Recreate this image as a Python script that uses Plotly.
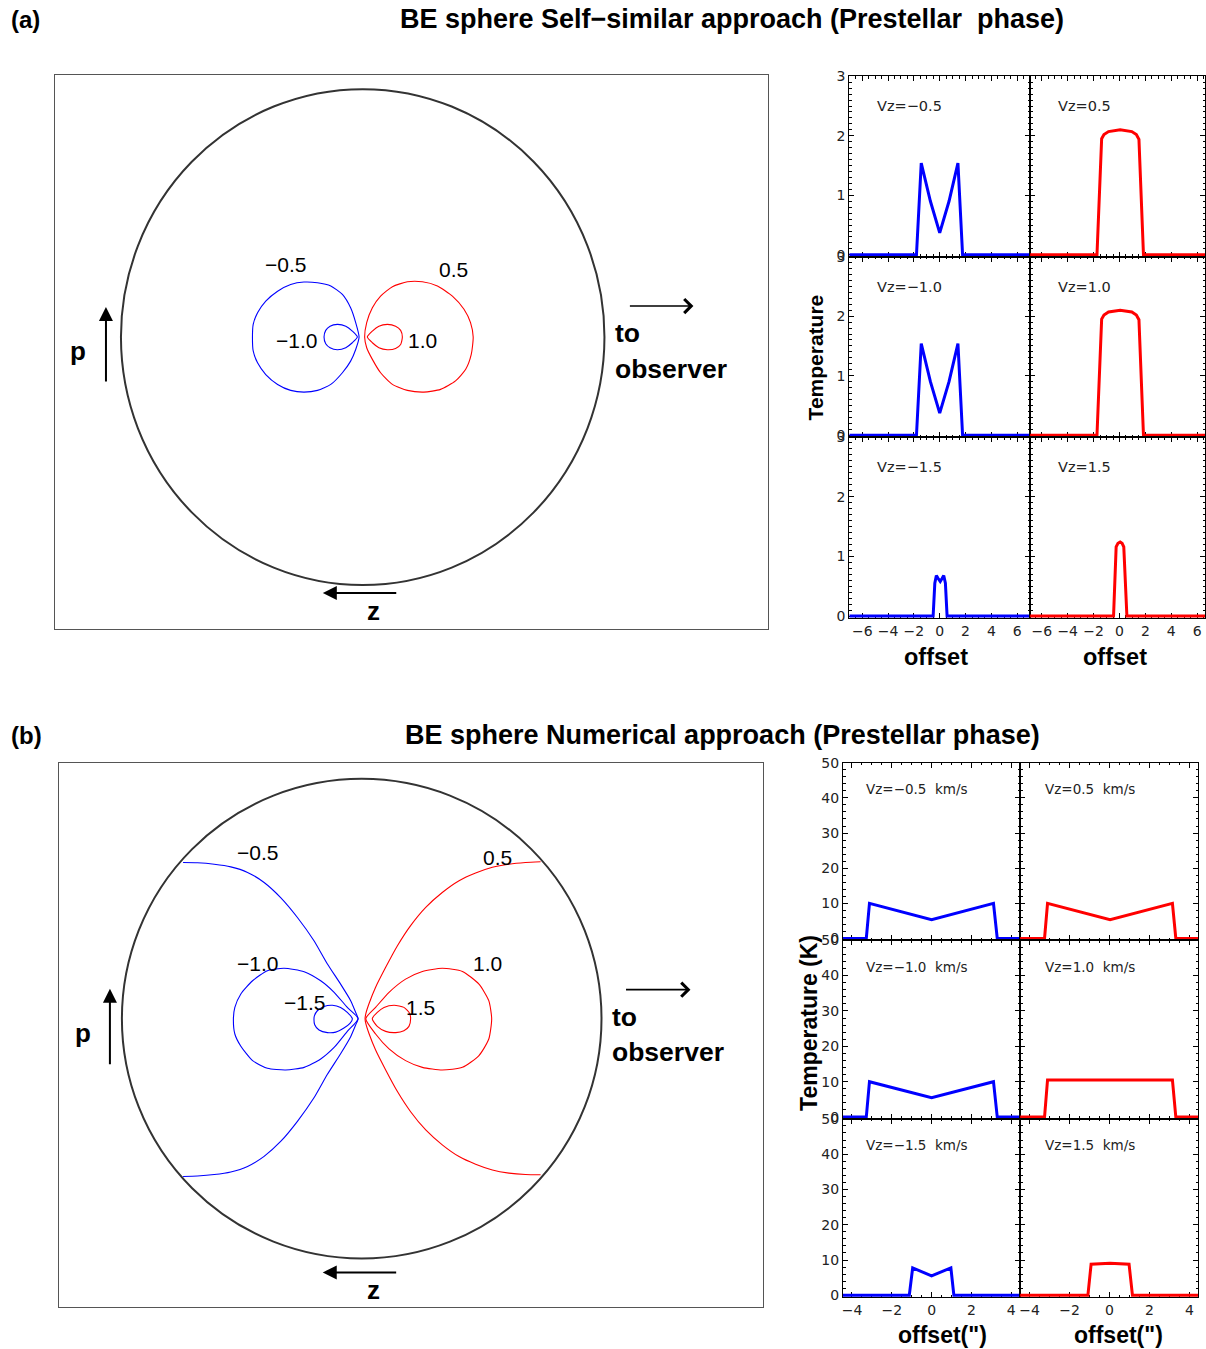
import plotly.graph_objects as go

W, H = 1206, 1349

# ---------------- data ----------------
# Panel (a) velocity contours: z (horizontal) and p (vertical), in % of sphere radius
a_m05_z = [-1.5, -2.9, -5.0, -8.4, -13.2, -18.7, -24.3, -29.8, -35.2, -40.1, -43.5, -45.3, -45.6,
           -45.3, -43.5, -40.1, -35.2, -29.8, -24.3, -18.7, -13.2, -8.4, -5.0, -2.9, -1.5]
a_m05_p = [0, 5.8, 11.8, 17.2, 20.6, 21.9, 22.2, 21.2, 18.5, 14.5, 9.8, 5.1, 0,
           -5.6, -10.4, -15.1, -19.1, -21.5, -22.2, -21.5, -19.1, -14.4, -9.7, -5.0, 0]
a_m10_z = [-2.2, -4.3, -7.0, -10.5, -13.5, -15.3, -16.0, -15.3, -13.5, -10.5, -7.0, -4.3, -2.2]
a_m10_p = [0, 2.4, 4.4, 5.1, 4.4, 2.7, 0, -2.7, -4.3, -5.1, -4.3, -2.3, 0]
a_p05_z = [0.8, 1.65, 4.0, 7.4, 12.3, 18.5, 24.7, 30.9, 37.1, 41.9, 44.6, 45.7,
           44.9, 42.6, 38.4, 32.2, 25.3, 18.5, 12.3, 7.4, 4.0, 1.65, 0.8]
a_p05_p = [0, 5.8, 11.8, 16.5, 20.3, 22.3, 22.3, 20.6, 16.5, 11.2, 5.8, 0,
           -7.0, -13.0, -17.7, -21.1, -22.2, -21.5, -19.1, -14.4, -9.0, -4.3, 0]
a_p10_z = [1.9, 4.0, 6.7, 10.2, 13.6, 15.7, 16.4, 15.7, 13.6, 10.2, 6.7, 4.0, 1.9]
a_p10_p = [0, 2.4, 4.4, 5.1, 4.4, 2.7, 0, -3.0, -4.6, -5.1, -4.3, -2.3, 0]

# Panel (b) velocity contours
b_m05_z = [-74.5, -68.5, -61.5, -54.6, -47.6, -40.7, -33.8, -26.8, -19.9, -14.3, -8.8, -4.6, -2.5, -1.5,
           -2.5, -4.6, -8.8, -14.3, -19.9, -26.8, -33.8, -40.7, -47.6, -54.6, -61.5, -68.5, -74.5]
b_m05_p = [65.1, 65.0, 64.4, 63.3, 61.0, 56.8, 50.5, 42.2, 32.5, 22.8, 14.4, 7.5, 2.6, 0,
           -2.6, -7.5, -14.6, -23.2, -33.0, -42.8, -51.2, -57.4, -61.6, -63.9, -65.0, -65.6, -65.8]
b_m10_z = [-1.5, -6.0, -11.5, -17.1, -24.0, -32.4, -39.3, -45.5, -50.4, -52.9, -53.5,
           -52.9, -50.4, -45.5, -39.3, -31.7, -24.0, -17.1, -11.5, -6.0, -1.5]
b_m10_p = [0, 4.7, 11.0, 15.8, 19.6, 21.0, 20.0, 15.8, 10.3, 4.7, 0,
           -6.4, -11.5, -17.5, -20.7, -21.4, -20.3, -16.8, -12.0, -5.3, 0]
b_m15_z = [-3.9, -6.0, -8.8, -12.2, -15.7, -18.5, -19.7, -19.9, -19.6, -17.8, -14.3, -10.8, -7.4, -4.9, -3.9]
b_m15_p = [0, 2.6, 4.7, 5.6, 5.1, 3.3, 1.25, 0, -2.5, -4.7, -5.8, -5.6, -3.9, -2.0, 0]
b_p05_z = [74.6, 68.3, 61.4, 54.5, 47.5, 40.6, 33.6, 26.7, 20.4, 14.9, 10.0, 5.8, 3.0, 1.7, 1.4,
           1.7, 3.0, 5.8, 10.0, 14.9, 20.4, 26.7, 33.6, 40.6, 47.5, 54.5, 61.4, 68.3, 74.6]
b_p05_p = [65.4, 65.1, 64.4, 63.1, 60.7, 57.5, 52.6, 46.4, 38.8, 30.4, 21.4, 13.1, 6.1, 2.0, 0,
           -2.0, -6.1, -13.1, -21.4, -30.4, -38.8, -46.4, -52.6, -57.5, -60.7, -63.1, -64.4, -65.0, -65.1]
b_p10_z = [1.7, 5.8, 11.4, 18.3, 25.3, 33.6, 42.0, 48.9, 53.0, 54.2,
           53.0, 48.9, 42.0, 33.6, 25.3, 18.3, 11.4, 5.8, 1.7]
b_p10_p = [0, 4.7, 11.0, 16.5, 19.7, 21.0, 19.7, 14.4, 7.5, 0,
           -8.5, -15.4, -20.3, -21.4, -20.3, -17.5, -12.6, -6.4, 0]
b_p15_z = [4.4, 6.5, 9.3, 13.5, 17.6, 20.0, 20.4, 19.7, 17.6, 14.2, 10.0, 6.5, 4.4]
b_p15_p = [0, 2.6, 4.7, 5.6, 4.7, 2.2, 0, -3.2, -5.0, -5.8, -5.3, -3.2, 0]

# Panel (a) spectra: offset vs temperature
a_off_m05 = [-7, -1.8, -1.43, -0.72, 0, 0.72, 1.41, 1.77, 7]
a_T_m05 = [0, 0, 1.54, 0.90, 0.37, 0.90, 1.54, 0, 0]
a_off_p05 = [-7, -1.74, -1.38, -1.2, -0.85, 0.05, 0.95, 1.3, 1.5, 1.85, 7]
a_T_p05 = [0, 0, 1.95, 2.02, 2.07, 2.10, 2.07, 2.02, 1.94, 0, 0]
a_off_m10 = [-7, -1.8, -1.43, -0.72, 0, 0.72, 1.41, 1.77, 7]
a_T_m10 = [0, 0, 1.54, 0.90, 0.37, 0.90, 1.54, 0, 0]
a_off_p10 = [-7, -1.74, -1.38, -1.2, -0.85, 0.05, 0.95, 1.3, 1.5, 1.85, 7]
a_T_p10 = [0, 0, 1.95, 2.02, 2.07, 2.10, 2.07, 2.02, 1.94, 0, 0]
a_off_m15 = [-7, -0.51, -0.38, -0.26, -0.12, 0.04, 0.18, 0.31, 0.44, 0.57, 7]
a_T_m15 = [0, 0, 0.55, 0.68, 0.63, 0.58, 0.63, 0.68, 0.55, 0, 0]
a_off_p15 = [-7, -0.46, -0.26, -0.12, 0.05, 0.2, 0.33, 0.57, 7]
a_T_p15 = [0, 0, 1.16, 1.22, 1.24, 1.22, 1.16, 0, 0]

# Panel (b) spectra
b_off_m05 = [-4.5, -3.28, -3.12, 0, 3.11, 3.3, 4.5]
b_T_m05 = [0, 0, 10.0, 5.3, 10.0, 0, 0]
b_off_p05 = [-4.5, -3.25, -3.1, 0.03, 3.15, 3.32, 4.5]
b_T_p05 = [0, 0, 10.0, 5.3, 10.0, 0, 0]
b_off_m10 = [-4.5, -3.28, -3.12, 0, 3.11, 3.3, 4.5]
b_T_m10 = [0, 0, 10.0, 5.5, 10.0, 0, 0]
b_off_p10 = [-4.5, -3.25, -3.1, 3.15, 3.32, 4.5]
b_T_p10 = [0, 0, 10.5, 10.5, 0, 0]
b_off_m15 = [-4.5, -1.12, -0.95, 0, 0.97, 1.12, 4.5]
b_T_m15 = [0, 0, 7.8, 5.5, 7.8, 0, 0]
b_off_p15 = [-4.5, -1.08, -0.92, 0.03, 0.98, 1.15, 4.5]
b_T_p15 = [0, 0, 8.8, 9.1, 8.8, 0, 0]

a_vz_labels = ["Vz=−0.5", "Vz=0.5", "Vz=−1.0", "Vz=1.0", "Vz=−1.5", "Vz=1.5"]
b_vz_labels = ["Vz=−0.5  km/s", "Vz=0.5  km/s", "Vz=−1.0  km/s", "Vz=1.0  km/s",
               "Vz=−1.5  km/s", "Vz=1.5  km/s"]
a_contour_labels = ["−0.5", "0.5", "−1.0", "1.0"]
b_contour_labels = ["−0.5", "0.5", "−1.0", "1.0", "−1.5", "1.5"]

BLUE = "#0000ff"
RED = "#ff0000"


def fx(px):
    return px / W


def fy(py):
    # compensates the small vertical offset/scale seen in the rendered page
    return 1 - ((py - 6.7) / 0.9903) / H


fig = go.Figure()
layout = {}

# ---------- left diagram axes ----------
frame = dict(showline=True, mirror=True, linecolor="#555", linewidth=1, showgrid=False,
             zeroline=False, showticklabels=False, ticks="")
layout["xaxis"] = dict(frame, domain=[fx(54), fx(768)], range=[-127.3, 167.8], anchor="y")
layout["yaxis"] = dict(frame, domain=[fy(628), fy(74)], range=[-117.7, 105.6], anchor="x")
layout["xaxis2"] = dict(frame, domain=[fx(58), fx(763)], range=[-126.25, 167.5], anchor="y2")
layout["yaxis2"] = dict(frame, domain=[fy(1307), fy(762)], range=[-120.4, 106.7], anchor="x2")


def contour(x, y, color, ax):
    fig.add_trace(go.Scatter(x=x, y=y, mode="lines", line=dict(color=color, width=1.1, shape="spline",
                                                               smoothing=0.6),
                             xaxis="x" + ax, yaxis="y" + ax, showlegend=False, hoverinfo="skip"))


contour(a_m05_z, a_m05_p, BLUE, "")
contour(a_m10_z, a_m10_p, BLUE, "")
contour(a_p05_z, a_p05_p, RED, "")
contour(a_p10_z, a_p10_p, RED, "")
contour(b_m05_z, b_m05_p, BLUE, "2")
contour(b_m10_z, b_m10_p, BLUE, "2")
contour(b_m15_z, b_m15_p, BLUE, "2")
contour(b_p05_z, b_p05_p, RED, "2")
contour(b_p10_z, b_p10_p, RED, "2")
contour(b_p15_z, b_p15_p, RED, "2")

shapes = [
    dict(type="circle", xref="x", yref="y", x0=-100, x1=100, y0=-100, y1=100,
         line=dict(color="#333", width=2)),
    dict(type="circle", xref="x2", yref="y2", x0=-100, x1=100, y0=-100, y1=100,
         line=dict(color="#333", width=2)),
]

# ---------- right spectra axes ----------
tickfont = dict(family="DejaVu Sans", size=14, color="#222")


def spec_axes(n, xpx, ypx, xr, yr, xdt, ydt, xmin, ymin, showx, showy):
    common = dict(ticks="inside", ticklen=5, tickwidth=1, tickcolor="black", mirror="allticks",
                  showline=True, linecolor="black", linewidth=1, showgrid=False, zeroline=False,
                  tickfont=tickfont, layer="below traces", tick0=0)
    layout["xaxis%d" % n] = dict(common, domain=[fx(xpx[0]), fx(xpx[1])], range=xr, dtick=xdt,
                                 showticklabels=showx, anchor="y%d" % n,
                                 minor=dict(dtick=xmin, ticks="inside", ticklen=2.5,
                                            tickcolor="black", showgrid=False))
    layout["yaxis%d" % n] = dict(common, domain=[fy(ypx[1]), fy(ypx[0])], range=yr, dtick=ydt,
                                 showticklabels=showy, anchor="x%d" % n,
                                 minor=dict(dtick=ymin, ticks="inside", ticklen=2.5,
                                            tickcolor="black", showgrid=False))


a_cols = [((849, 1030), [-7, 7]), ((1030, 1205), [-6.9, 6.6])]
a_rows = [(75, 255.5), (255.5, 436), (436, 617)]
b_cols = [((842.7, 1020), [-4.45, 4.45]), ((1020, 1198), [-4.47, 4.43])]
b_rows = [(762, 939.5), (939.5, 1118.3), (1118.3, 1296.7)]

a_series = [(a_off_m05, a_T_m05, BLUE), (a_off_p05, a_T_p05, RED),
            (a_off_m10, a_T_m10, BLUE), (a_off_p10, a_T_p10, RED),
            (a_off_m15, a_T_m15, BLUE), (a_off_p15, a_T_p15, RED)]
b_series = [(b_off_m05, b_T_m05, BLUE), (b_off_p05, b_T_p05, RED),
            (b_off_m10, b_T_m10, BLUE), (b_off_p10, b_T_p10, RED),
            (b_off_m15, b_T_m15, BLUE), (b_off_p15, b_T_p15, RED)]

annotations = []
n = 3
for i in range(6):
    r, c = divmod(i, 2)
    (xpx, xr) = a_cols[c]
    spec_axes(n, xpx, a_rows[r], xr, [-0.03, 3.0], 2, 1, 0.5, 0.1, r == 2, c == 0)
    x, y, col = a_series[i]
    fig.add_trace(go.Scatter(x=x, y=y, mode="lines", line=dict(color=col, width=3),
                             xaxis="x%d" % n, yaxis="y%d" % n, showlegend=False))
    annotations.append(dict(text=a_vz_labels[i], xref="paper", yref="paper",
                            x=fx([875, 1056][c]), y=fy([105, 286, 466][r]), xanchor="left",
                            yanchor="middle", showarrow=False,
                            font=dict(family="DejaVu Sans", size=14.5, color="#222")))
    n += 1
for i in range(6):
    r, c = divmod(i, 2)
    (xpx, xr) = b_cols[c]
    spec_axes(n, xpx, b_rows[r], xr, [-0.5, 50], 2, 10, 0.5, 2, r == 2, c == 0)
    x, y, col = b_series[i]
    fig.add_trace(go.Scatter(x=x, y=y, mode="lines", line=dict(color=col, width=3),
                             xaxis="x%d" % n, yaxis="y%d" % n, showlegend=False))
    annotations.append(dict(text=b_vz_labels[i], xref="paper", yref="paper",
                            x=fx([864, 1043][c]), y=fy([788, 966, 1144][r]), xanchor="left",
                            yanchor="middle", showarrow=False,
                            font=dict(family="DejaVu Sans", size=13.5, color="#222")))
    n += 1

BOLD = "Liberation Sans"


def ptext(text, px, py, size, bold=True, anchor="center", angle=0):
    annotations.append(dict(text=("<b>%s</b>" % text) if bold else text, xref="paper", yref="paper",
                            x=fx(px), y=fy(py), xanchor=anchor, yanchor="middle", showarrow=False,
                            textangle=angle, font=dict(family=BOLD, size=size, color="black")))


ptext("(a)", 8, 18, 24, anchor="left")
ptext("BE sphere Self−similar approach (Prestellar \u00a0phase)", 732, 18, 27)
ptext("(b)", 8, 735, 24, anchor="left")
ptext("BE sphere Numerical approach (Prestellar phase)", 722, 734, 27)
ptext("Temperature", 815, 356, 21, angle=-90)
ptext("Temperature (K)", 808, 1022, 23, angle=-90)
ptext("offset", 936, 656, 23.5)
ptext("offset", 1115, 656, 23.5)
ptext('offset(")', 942, 1335, 23)
ptext('offset(")', 1118, 1335, 23)


def dtext(text, x, y, ax, size, bold=True, anchor="center"):
    annotations.append(dict(text=("<b>%s</b>" % text) if bold else text, xref="x" + ax, yref="y" + ax,
                            x=x, y=y, xanchor=anchor, yanchor="middle", showarrow=False,
                            font=dict(family=BOLD, size=size, color="black")))


def arrow(x, y, tx, ty, ax, head, size, width=2):
    annotations.append(dict(text="", xref="x" + ax, yref="y" + ax, axref="x" + ax, ayref="y" + ax,
                            x=x, y=y, ax=tx, ay=ty, showarrow=True, arrowhead=head,
                            arrowsize=size, arrowwidth=width, arrowcolor="black"))


# panel (a) decorations
for lab, (x, y) in zip(a_contour_labels, [(-31.8, 29.4), (37.6, 27.4), (-27.3, -1.2), (24.8, -1.2)]):
    dtext(lab, x, y, "", 21, bold=False)
arrow(-106.2, 12.1, -106.2, -18.5, "", 2, 1.4)
arrow(136.8, 12.5, 109.9, 12.5, "", 4, 1.7, 1.6)
arrow(-16.5, -103.2, 14.5, -103.2, "", 2, 1.4)
dtext("p", -117.8, -5.6, "", 26)
dtext("to", 103.7, 1.6, "", 26.5, anchor="left")
dtext("observer", 103.7, -12.9, "", 26.5, anchor="left")
dtext("z", 4.5, -110.5, "", 26)

# panel (b) decorations
for lab, (x, y) in zip(b_contour_labels, [(-43.3, 69.2), (56.7, 67.1), (-43.3, 22.9), (52.5, 22.9),
                                          (-23.75, 6.7), (24.6, 4.6)]):
    dtext(lab, x, y, "2", 21, bold=False)
arrow(-105, 12.5, -105, -19.6, "2", 2, 1.4)
arrow(137.1, 12.1, 109.6, 12.1, "2", 4, 1.7, 1.6)
arrow(-16.25, -105.8, 15, -105.8, "2", 2, 1.4)
dtext("p", -116.25, -5.8, "2", 26)
dtext("to", 103.75, 0.8, "2", 26.5, anchor="left")
dtext("observer", 103.75, -13.75, "2", 26.5, anchor="left")
dtext("z", 5, -113.3, "2", 26)

fig.update_layout(width=W, height=H, autosize=False, margin=dict(l=0, r=0, t=0, b=0),
                  paper_bgcolor="white", plot_bgcolor="white", showlegend=False,
                  annotations=annotations, shapes=shapes, **layout)

fig.write_html("out.html")
